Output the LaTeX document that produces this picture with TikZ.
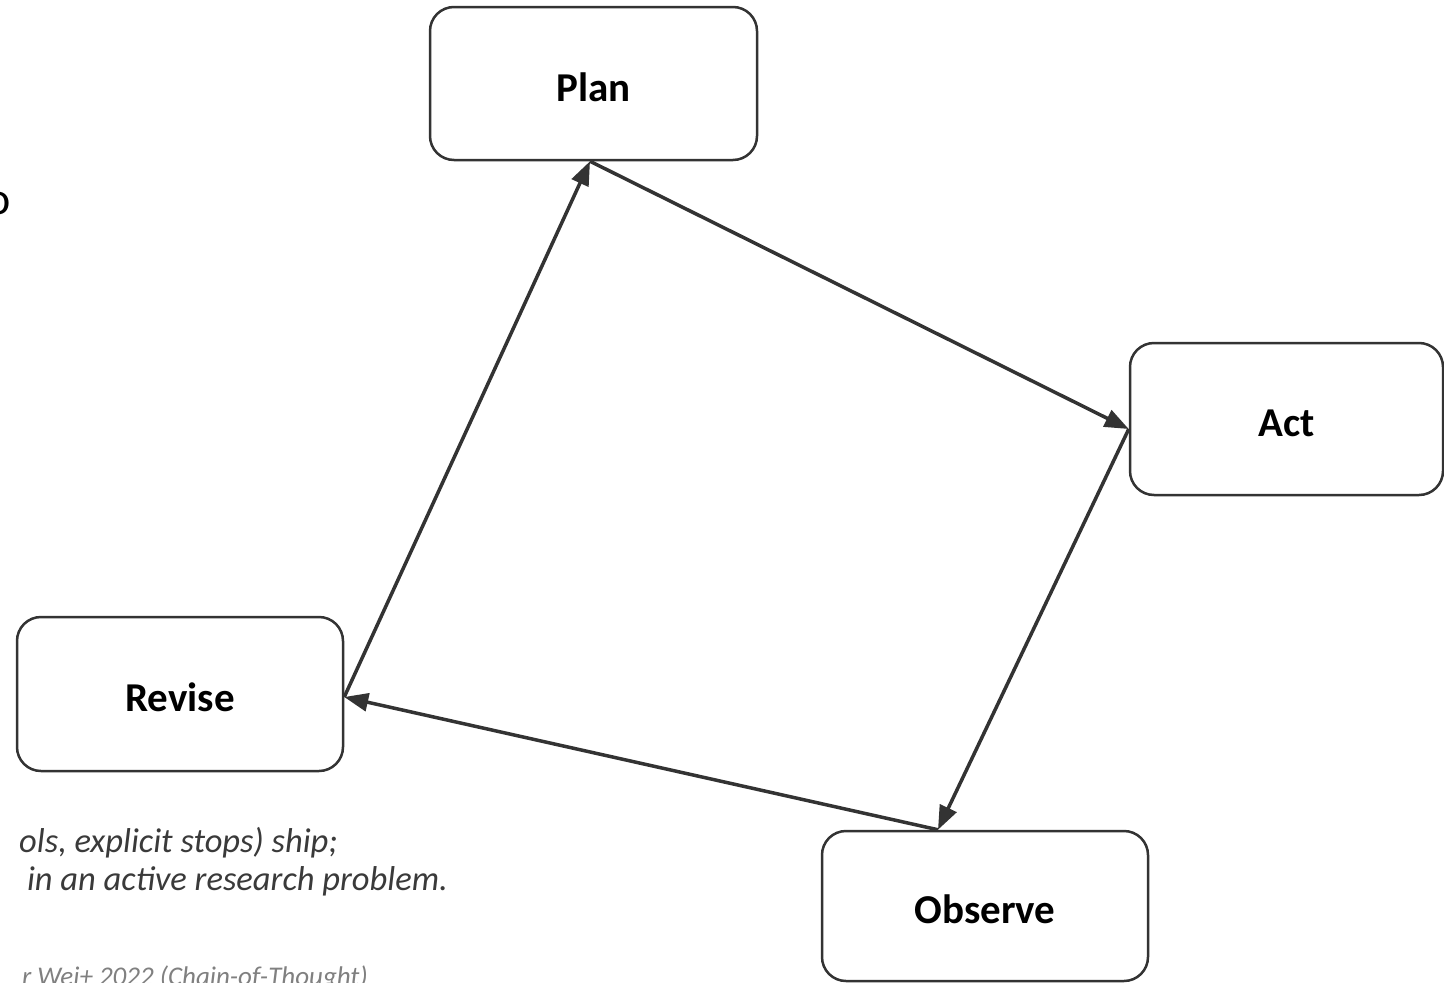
\documentclass[tikz,border=0pt]{standalone}
\usepackage{fontspec}
\setmainfont{Carlito}
\usetikzlibrary{arrows.meta,calc}
\definecolor{ink}{HTML}{333333}
\definecolor{notegray}{HTML}{3A3A3A}
\definecolor{srcgray}{HTML}{808080}
\begin{document}
\begin{tikzpicture}[x=1pt,y=-1pt,
  stage/.style={draw=ink, line width=2.5pt, rounded corners=24pt, fill=white,
    font=\fontsize{41}{49}\selectfont\bfseries, text=black, inner sep=0pt,
    text height=35pt, text depth=0pt},
  flow/.style={draw=ink, line width=3.5pt, -{Triangle[length=24pt,width=18pt]}},
  note/.style={font=\fontsize{34.5}{40}\selectfont\itshape, text=notegray,
    anchor=base east, inner sep=0pt},
  source/.style={font=\fontsize{27}{32}\selectfont\itshape, text=srcgray,
    anchor=base east, inner sep=0pt},
]
\useasboundingbox (0,0) rectangle (1444,983);
\fill[white] (0,0) rectangle (1444,983);

% cycle stages
\node[stage, minimum width=327pt, minimum height=153pt] (plan) at (593.5,83.5) {Plan};
\node[stage, minimum width=313pt, minimum height=152pt] (act)  at (1286.5,419) {Act};
\node[stage, minimum width=326pt, minimum height=150pt] (obs)  at (985,906) {Observe};
\node[stage, minimum width=326pt, minimum height=154pt] (rev)  at (180,694) {Revise};

% attachment points on the box borders
\coordinate (planS) at ($(plan.south)+(-3.5,0)$);
\coordinate (actW)  at ($(act.west)+(0,10)$);
\coordinate (obsN)  at ($(obs.north)+(-47,0)$);
\coordinate (revE)  at ($(rev.east)+(0,3)$);

% the loop
\draw[flow] (revE) -- (planS);
\draw[flow] (planS) -- (actW);
\draw[flow] (actW) -- (obsN);
\draw[flow] (obsN) -- (revE);

% surrounding text
\node[font=\fontsize{46}{55}\selectfont, text=black, anchor=base west, inner sep=0pt] (frag) at (-14,214) {o};
\node[note] (line1) at (338,852) {ols, explicit stops) ship;};
\node[note] (line2) at (448,890) {in an active research problem.};
\node[source] (src) at (368,985) {r Wei+ 2022 (Chain-of-Thought)};
\end{tikzpicture}
\end{document}
